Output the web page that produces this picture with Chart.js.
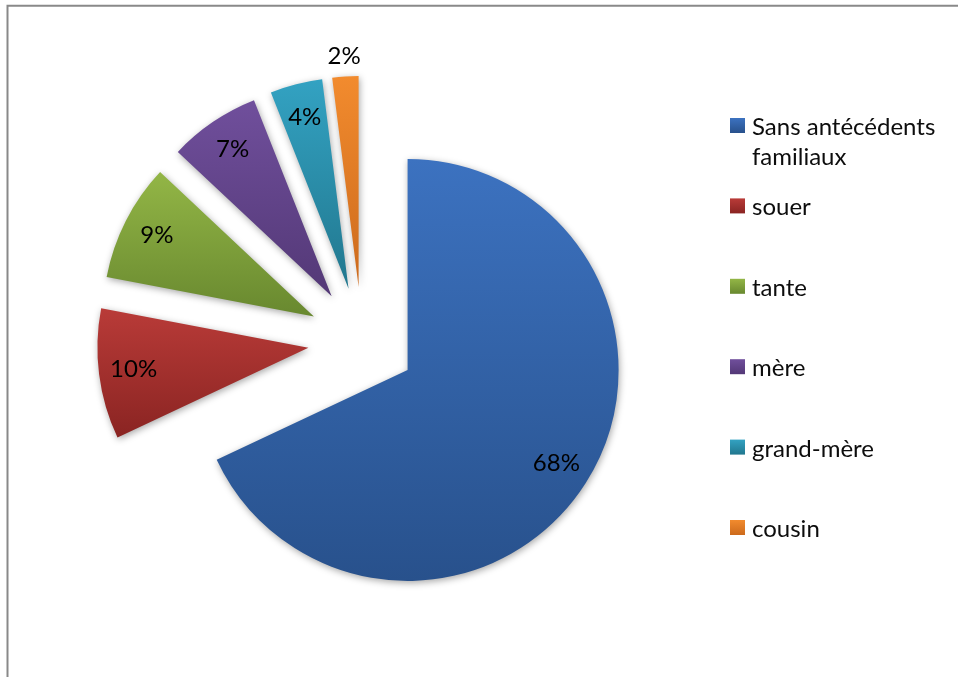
<!DOCTYPE html>
<html lang="fr">
<head>
<meta charset="utf-8">
<title>Antécédents familiaux</title>
<script src="https://cdn.jsdelivr.net/npm/chart.js@4/dist/chart.umd.min.js"></script>
<style>
  html, body { margin: 0; padding: 0; background: #ffffff; }
  canvas { display: block; }
</style>
</head>
<body>
<canvas id="pie" width="958" height="677"></canvas>
<script>
// Slice categories and their shares (percent)
const categories = ['Sans antécédents familiaux', 'souer', 'tante', 'mère', 'grand-mère', 'cousin'];
const values = [68, 10, 9, 7, 4, 2];

// Two-stop fill for each slice: lighter at the top, darker at the bottom
const topColors = ['#3c72c0', '#b93b38', '#93b646', '#704f9c', '#33a2c2', '#f28b2e'];
const bottomColors = ['#28518c', '#8a2422', '#68882f', '#533876', '#21778e', '#cc6a1c'];

const RADIUS = 211;     // pie radius in px
const EXPLODE = 54;     // every slice is pulled out by this distance
const FONT = 'Lato, "Open Sans", sans-serif';
const FONT_SIZE = 24;

// Vertical extent of a slice, used to lay its gradient from top to bottom
function sliceExtent(chart, index) {
  const ca = chart.chartArea;
  const cy = (ca.top + ca.bottom) / 2;
  const total = values.reduce((a, b) => a + b, 0);
  let cum = 0;
  for (let k = 0; k < index; k++) cum += values[k];
  const a0 = -Math.PI / 2 + 2 * Math.PI * cum / total;
  const a1 = a0 + 2 * Math.PI * values[index] / total;
  const mid = (a0 + a1) / 2;
  const ay = cy + Math.sin(mid) * EXPLODE;
  let ymin = ay, ymax = ay;
  for (let s = 0; s <= 48; s++) {
    const a = a0 + (a1 - a0) * s / 48;
    const y = ay + Math.sin(a) * RADIUS;
    ymin = Math.min(ymin, y);
    ymax = Math.max(ymax, y);
  }
  return [ymin, ymax];
}

function sliceFill(ctx) {
  const i = ctx.dataIndex;
  const chart = ctx.chart;
  if (!chart.chartArea) return topColors[i];
  const [y0, y1] = sliceExtent(chart, i);
  const g = chart.ctx.createLinearGradient(0, y0, 0, y1);
  g.addColorStop(0, topColors[i]);
  g.addColorStop(1, bottomColors[i]);
  return g;
}

// Pull every slice outward along its bisector (exploded pie)
const explodeSlices = {
  id: 'explodeSlices',
  afterDatasetUpdate(chart, args) {
    const meta = chart.getDatasetMeta(args.index);
    meta.data.forEach(arc => {
      const mid = (arc.startAngle + arc.endAngle) / 2;
      arc.x += Math.cos(mid) * EXPLODE;
      arc.y += Math.sin(mid) * EXPLODE;
      arc.outerRadius = RADIUS;
    });
  }
};

// Soft shadow under the slices
const sliceShadow = {
  id: 'sliceShadow',
  beforeDatasetDraw(chart) {
    const c = chart.ctx;
    c.save();
    c.shadowColor = 'rgba(0,0,0,0.35)';
    c.shadowBlur = 7;
    c.shadowOffsetX = 1;
    c.shadowOffsetY = 2;
  },
  afterDatasetDraw(chart) {
    chart.ctx.restore();
  }
};

// White page with the grey frame on the top and left
const frame = {
  id: 'frame',
  beforeDraw(chart) {
    const c = chart.ctx;
    c.save();
    c.fillStyle = '#ffffff';
    c.fillRect(0, 0, chart.width, chart.height);
    c.strokeStyle = '#898989';
    c.lineWidth = 2;
    c.beginPath();
    c.moveTo(7.5, chart.height);
    c.lineTo(7.5, 5.8);
    c.lineTo(chart.width, 5.8);
    c.stroke();
    c.restore();
  }
};

// Percentage labels: inside each slice, the smallest one just outside
const valueLabels = {
  id: 'valueLabels',
  afterDatasetsDraw(chart) {
    const c = chart.ctx;
    const meta = chart.getDatasetMeta(0);
    c.save();
    c.font = FONT_SIZE + 'px ' + FONT;
    c.fillStyle = '#000000';
    c.textAlign = 'center';
    c.textBaseline = 'middle';
    meta.data.forEach((arc, i) => {
      const mid = (arc.startAngle + arc.endAngle) / 2;
      const r = i === values.length - 1 ? RADIUS + 19 : RADIUS * 0.835;
      c.fillText(values[i] + '%', arc.x + Math.cos(mid) * r, arc.y + Math.sin(mid) * r - 1);
    });
    c.restore();
  }
};

// Legend on the right, one entry every 80 px, long names wrapped
const sideLegend = {
  id: 'sideLegend',
  afterDraw(chart) {
    const c = chart.ctx;
    const boxX = 730, textX = 752, firstTop = 118, step = 80.4, box = 15, lineH = 30;
    const maxW = chart.width - textX - 4;
    c.save();
    c.font = FONT_SIZE + 'px ' + FONT;
    c.textAlign = 'left';
    c.textBaseline = 'alphabetic';
    categories.forEach((name, i) => {
      const top = firstTop + i * step;
      const g = c.createLinearGradient(0, top, 0, top + box);
      g.addColorStop(0, topColors[i]);
      g.addColorStop(1, bottomColors[i]);
      c.fillStyle = g;
      c.fillRect(boxX, top, box, box);
      // word wrap
      const words = name.split(' ');
      const lines = [];
      let line = '';
      words.forEach(w => {
        const test = line ? line + ' ' + w : w;
        if (line && c.measureText(test).width > maxW) {
          lines.push(line);
          line = w;
        } else {
          line = test;
        }
      });
      lines.push(line);
      c.fillStyle = '#0d0d0d';
      lines.forEach((l, k) => c.fillText(l, textX, top + box + 2 + k * lineH));
    });
    c.restore();
  }
};

function draw() {
  new Chart(document.getElementById('pie'), {
    type: 'pie',
    data: {
      labels: categories,
      datasets: [{
        data: values,
        backgroundColor: sliceFill,
        borderWidth: 0,
        radius: RADIUS
      }]
    },
    options: {
      responsive: false,
      animation: false,
      events: [],
      layout: { padding: { left: 0, right: 234, top: 5, bottom: 0 } },
      plugins: {
        legend: { display: false },
        tooltip: { enabled: false }
      }
    },
    plugins: [frame, explodeSlices, sliceShadow, valueLabels, sideLegend]
  });
}

if (document.fonts && document.fonts.load) {
  document.fonts.load(FONT_SIZE + 'px Lato').then(draw, draw);
} else {
  draw();
}
</script>
</body>
</html>
